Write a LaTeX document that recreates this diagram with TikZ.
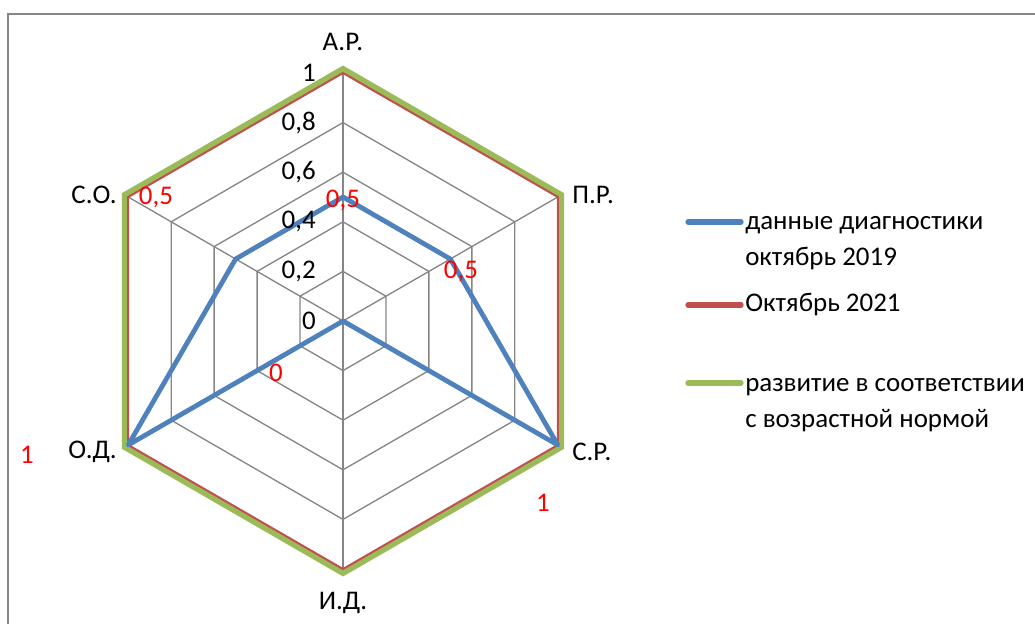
\documentclass[tikz,border=0pt]{standalone}
\usepackage{fontspec}
\setmainfont{Carlito}
\usetikzlibrary{positioning}
\definecolor{diagblue}{HTML}{4F81BD}
\definecolor{octred}{HTML}{C0504D}
\definecolor{normgreen}{HTML}{9BBB59}
\definecolor{gridgray}{HTML}{868686}

\begin{document}
\begin{tikzpicture}[x=0.75pt, y=0.75pt]
	\tikzstyle{Label} = [font=\fontsize{20.2}{27.5}\selectfont, inner sep=0pt]
	\tikzstyle{Tick}  = [Label, anchor=east]
	\tikzstyle{Value} = [Label, text=red]
	\tikzstyle{Grid}  = [gridgray, line width=1pt]
	\tikzstyle{Diag}  = [diagblue, line width=3.6pt, line join=round]
	\tikzstyle{Oct}   = [octred, line width=1.5pt]
	\tikzstyle{Norm}  = [normgreen, line width=4.5pt]
	\tikzstyle{Key}   = [line width=4pt, line cap=round]

	\useasboundingbox (0,0) rectangle (1035,624);
	\draw [gridgray, line width=1.5pt] (8,-10) -- (8,610) -- (1045,610);

	\begin{scope}[shift={(343,303)}]
		% rings and spokes
		\foreach \r in {49.6,99.2,148.8,198.4}
			\draw [Grid] (90:\r) -- (30:\r) -- (-30:\r) -- (-90:\r) -- (210:\r) -- (150:\r) -- cycle;
		\foreach \a in {90,30,-30,-90,210,150}
			\draw [Grid] (0,0) -- (\a:248);

		\coordinate (c) at (0,0);
		\coordinate (o1) at (90:248);
		\coordinate (o2) at (30:248);
		\coordinate (o3) at (-30:248);
		\coordinate (o4) at (-90:248);
		\coordinate (o5) at (210:248);
		\coordinate (o6) at (150:248);

		\draw [Norm] (90:252) -- (30:252) -- (-30:252) -- (-90:252) -- (210:252) -- (150:252) -- cycle;
		\draw [Oct] (o1) -- (o2) -- (o3) -- (o4) -- (o5) -- (o6) -- cycle;

		\coordinate (d1) at (90:124);
		\coordinate (d2) at (30:124);
		\coordinate (d6) at (150:124);
		\draw [Diag] (d1) -- (d2) -- (o3) -- (c) -- (o5) -- (d6) -- cycle;

		% scale
		\node (t0) at (-27, 0)     [Tick] {0};
		\node (t1) at (-27, 49.6)  [Tick] {0,2};
		\node (t2) at (-27, 99.2)  [Tick] {0,4};
		\node (t3) at (-27, 148.8) [Tick] {0,6};
		\node (t4) at (-27, 198.4) [Tick] {0,8};
		\node (t5) at (-27, 248)   [Tick] {1};

		% axes
		\node (ar) at (0, 279)   [Label] {А.Р.};
		\node (pr) at (229, 126) [Label, anchor=west] {П.Р.};
		\node (sr) at (229, -131) [Label, anchor=west] {С.Р.};
		\node (id) at (0, -282)  [Label] {И.Д.};
		\node (od) at (-226, -131) [Label, anchor=east] {О.Д.};
		\node (so) at (-226, 126) [Label, anchor=east] {С.О.};

		% values
		\node (v1) at (0, 121)     [Value] {0,5};
		\node (v2) at (118, 50)    [Value] {0,5};
		\node (v3) at (200, -182)  [Value] {1};
		\node (v4) at (-67, -52)   [Value] {0};
		\node (v5) at (-316, -134) [Value] {1};
		\node (v6) at (-187, 124)  [Value] {0,5};
	\end{scope}

	% legend
	\coordinate (kb) at (688, 402);
	\coordinate (kr) at (688, 319);
	\coordinate (kg) at (688, 241);

	\node (lb) at (745, 381) [Label, anchor=west, align=left] {данные диагностики\\октябрь 2019};
	\node (lr) at (745, 319) [Label, anchor=west] {Октябрь 2021};
	\node (lg) at (745, 219) [Label, anchor=west, align=left] {развитие в соответствии\\с возрастной нормой};

	\draw [Key, diagblue] (kb) -- ++(53,0);
	\draw [Key, octred] (kr) -- ++(53,0);
	\draw [Key, normgreen] (kg) -- ++(53,0);
\end{tikzpicture}
\end{document}
